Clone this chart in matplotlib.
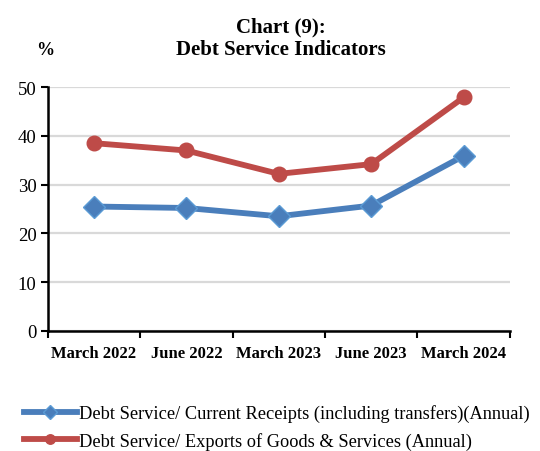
import matplotlib
matplotlib.use("Agg")
import matplotlib.pyplot as plt
from matplotlib.ticker import FixedLocator, NullFormatter

plt.rcParams['font.family'] = ['Liberation Serif', 'DejaVu Serif']

periods = ["March 2022", "June 2022", "March 2023", "June 2023", "March 2024"]
current_receipts = [25.5, 25.2, 23.5, 25.7, 35.9]
exports_goods = [38.5, 37.0, 32.2, 34.2, 47.9]

blue = "#4a7ebb"
red = "#be4b48"

fig = plt.figure(figsize=(5.4, 4.52), dpi=100)
ax = fig.add_axes([0.0883, 0.266, 0.856, 0.539])

x = list(range(len(periods)))
ax.plot(x, current_receipts, color=blue, lw=4.2, marker="D", ms=11,
        mfc=blue, mec="#5b9bd5", mew=1,
        label="Debt Service/ Current Receipts (including transfers)(Annual)")
ax.plot(x, exports_goods, color=red, lw=4.2, marker="o", ms=10.5,
        mfc=red, mec=red,
        label="Debt Service/ Exports of Goods & Services (Annual)")

ax.set_xlim(-0.5, len(periods) - 0.5)
ax.set_ylim(0, 50)
ax.set_yticks([0, 10, 20, 30, 40, 50])
ax.yaxis.grid(True, color="#d9d9d9", lw=1.6)
ax.set_axisbelow(True)

ax.set_xticks(x)
ax.set_xticklabels(periods, fontweight="bold", fontsize=12)
ax.xaxis.set_minor_locator(FixedLocator([i - 0.5 for i in range(len(periods) + 1)]))
ax.xaxis.set_minor_formatter(NullFormatter())
ax.tick_params(axis="x", which="major", length=0, pad=10)
ax.tick_params(axis="x", which="minor", length=5, width=1.5, direction="out")
ax.tick_params(axis="y", length=5, width=1.5, direction="out", labelsize=13.5, pad=3)

for side in ["top", "right"]:
    ax.spines[side].set_visible(False)
for side in ["left", "bottom"]:
    ax.spines[side].set_linewidth(1.8)

fig.text(0.52, 0.940, "Chart (9):", ha="center", va="center", fontsize=15, fontweight="bold")
fig.text(0.52, 0.889, "Debt Service Indicators", ha="center", va="center", fontsize=15, fontweight="bold")
fig.text(0.083, 0.889, "%", ha="center", va="center", fontsize=13, fontweight="bold")

fig.legend(loc="upper left", bbox_to_anchor=(0.044, 0.103), frameon=False,
           fontsize=13.2, handlelength=2.9, handletextpad=0.1, labelspacing=0.52,
           markerscale=0.65, borderaxespad=0, borderpad=0)

fig.savefig("out.png", dpi=100)
